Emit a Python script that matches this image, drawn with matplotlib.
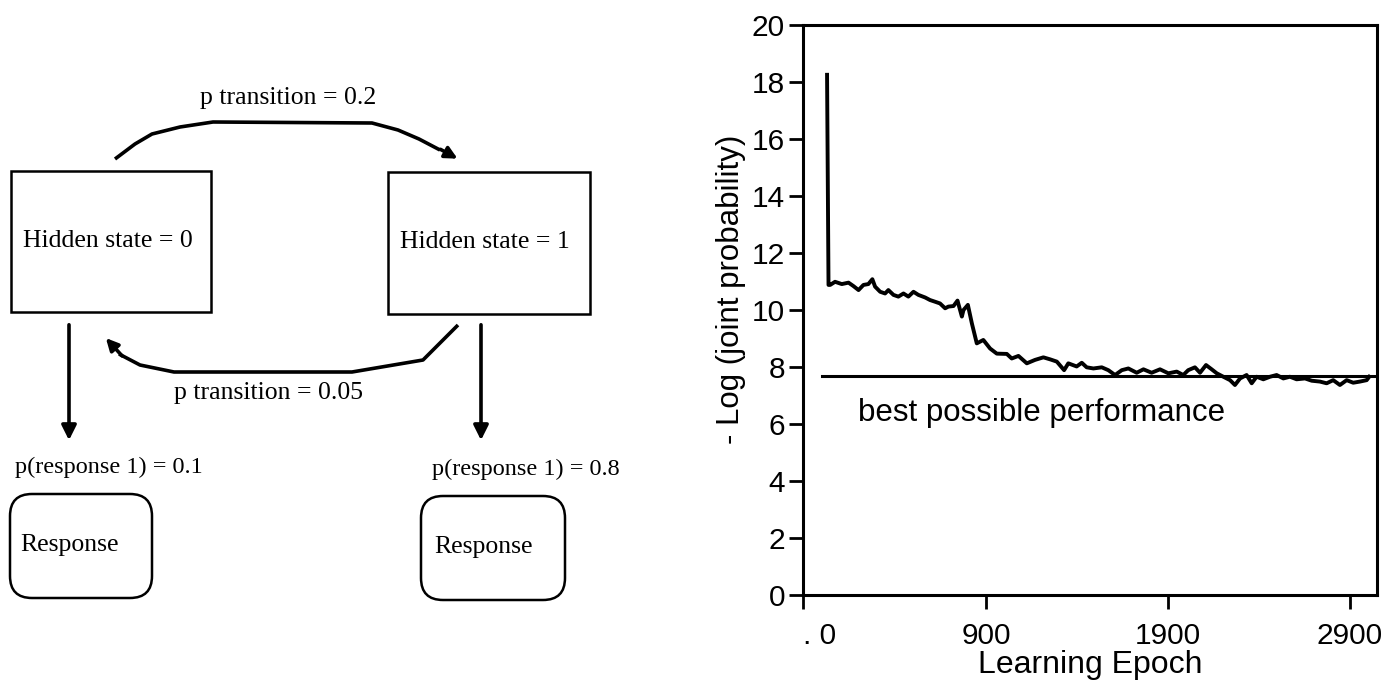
import matplotlib.pyplot as plt
from matplotlib.patches import Rectangle, FancyBboxPatch

# learning curve
epochs = [27, 35, 44, 71, 108, 145, 172, 200, 227, 254, 276, 291, 319, 346, 364,
          392, 419, 447, 474, 502, 529, 566, 593, 621, 648, 676, 694, 722, 744,
          768, 777, 801, 823, 850, 886, 923, 960, 1015, 1042, 1079, 1125, 1170,
          1216, 1253, 1290, 1330, 1353, 1399, 1427, 1454, 1491, 1537, 1573, 1610,
          1647, 1683, 1729, 1766, 1811, 1857, 1903, 1949, 1985, 2012, 2049, 2077,
          2110, 2141, 2169, 2205, 2242, 2269, 2297, 2333, 2361, 2388, 2425, 2462,
          2498, 2535, 2571, 2608, 2654, 2691, 2736, 2773, 2809, 2846, 2883, 2919,
          2956, 2993, 3007]
neg_log_prob = [18.25, 10.88, 10.88, 10.99, 10.91, 10.96, 10.84, 10.70, 10.88, 10.91,
                11.08, 10.82, 10.64, 10.58, 10.70, 10.53, 10.47, 10.58, 10.47, 10.64,
                10.53, 10.44, 10.35, 10.29, 10.23, 10.06, 10.12, 10.14, 10.33, 9.77,
                10.00, 10.18, 9.53, 8.83, 8.95, 8.65, 8.47, 8.46, 8.30, 8.39, 8.13,
                8.25, 8.34, 8.27, 8.19, 7.89, 8.13, 8.02, 8.15, 7.99, 7.95, 7.99, 7.89,
                7.72, 7.89, 7.95, 7.80, 7.92, 7.80, 7.92, 7.78, 7.84, 7.72, 7.89, 7.99,
                7.80, 8.07, 7.92, 7.78, 7.66, 7.54, 7.37, 7.60, 7.72, 7.43, 7.66, 7.57,
                7.66, 7.72, 7.60, 7.66, 7.57, 7.60, 7.52, 7.49, 7.43, 7.54, 7.37, 7.54,
                7.45, 7.49, 7.54, 7.66]
best_epochs = [0, 3050]
best_value = [7.7, 7.7]

x_ticks = [-105, 900, 1900, 2900]
x_ticklabels = [". 0", "900", "1900", "2900"]
y_ticks = [0, 2, 4, 6, 8, 10, 12, 14, 16, 18, 20]

# diagram labels
state_labels = ["Hidden state = 0", "Hidden state = 1"]
trans_labels = ["p transition = 0.2", "p transition = 0.05"]
resp_labels = ["p(response 1) = 0.1", "p(response 1) = 0.8"]

serif = "Liberation Serif"
sans = "Liberation Sans"
fs = 18.5

fig = plt.figure(figsize=(14, 6.92), dpi=100)

# ---- left: HMM diagram, drawn in pixel coordinates ----
d = fig.add_axes([0, 0, 1, 1])
d.set_xlim(0, 1400)
d.set_ylim(692, 0)
d.axis("off")

lw_box = 1.8
lw_arr = 2.6
for x0, y0, w, h in [(11, 171, 200, 141), (388, 172, 202, 142)]:
    d.add_patch(Rectangle((x0, y0), w, h, fill=False, lw=lw_box, ec="black"))
d.text(108, 241, state_labels[0], family=serif, fontsize=fs, ha="center", va="center")
d.text(485, 242, state_labels[1], family=serif, fontsize=fs, ha="center", va="center")

for x0, y0, w, h in [(10, 494, 142, 104), (421, 496, 144, 104)]:
    d.add_patch(FancyBboxPatch((x0, y0), w, h, boxstyle="round,pad=0,rounding_size=22",
                               fill=False, lw=lw_box, ec="black"))
d.text(70, 545, "Response", family=serif, fontsize=fs, ha="center", va="center")
d.text(484, 547, "Response", family=serif, fontsize=fs, ha="center", va="center")

# top transition arrow
top_x = [115, 135, 152, 180, 213, 372, 398, 419, 440]
top_y = [159, 144, 134, 127, 122, 123, 130, 139, 150]
d.plot(top_x, top_y, color="black", lw=lw_arr, solid_capstyle="butt")
d.annotate("", xy=(460, 160), xytext=(438, 148),
           arrowprops=dict(arrowstyle="-|>", color="black", lw=lw_arr, mutation_scale=18))
d.text(288, 98, trans_labels[0], family=serif, fontsize=fs, ha="center", va="center")

# bottom transition arrow
bot_x = [458, 423, 352, 174, 140, 119]
bot_y = [325, 360, 372, 372, 365, 354]
d.plot(bot_x, bot_y, color="black", lw=lw_arr, solid_capstyle="butt")
d.annotate("", xy=(104, 336), xytext=(124, 358),
           arrowprops=dict(arrowstyle="-|>", color="black", lw=lw_arr, mutation_scale=18))
d.text(269, 393, trans_labels[1], family=serif, fontsize=fs, ha="center", va="center")

# emission arrows
for x in (69, 481):
    d.annotate("", xy=(x, 443), xytext=(x, 322),
               arrowprops=dict(arrowstyle="-|>", color="black", lw=lw_arr, mutation_scale=22))
d.text(15, 467, resp_labels[0], family=serif, fontsize=17.5, ha="left", va="center")
d.text(432, 469, resp_labels[1], family=serif, fontsize=17.5, ha="left", va="center")

# ---- right: learning curve ----
ax = fig.add_axes([0.5736, 0.140, 0.4100, 0.824])
ax.plot(epochs, neg_log_prob, color="black", lw=2.8)
ax.plot(best_epochs, best_value, color="black", lw=2.2)
ax.set_xlim(-105, 3050)
ax.set_ylim(0, 20)
ax.set_xticks(x_ticks)
ax.set_xticklabels(x_ticklabels)
ax.set_yticks(y_ticks)
for sp in ax.spines.values():
    sp.set_linewidth(2.2)
ax.tick_params(axis="both", direction="out", width=2, length=10, labelsize=21.5)
ax.tick_params(axis="x", pad=9)
ax.tick_params(axis="y", pad=3)
for lab in ax.get_xticklabels() + ax.get_yticklabels():
    lab.set_family(sans)
ax.get_xticklabels()[0].set_horizontalalignment("left")
ax.text(198, 6.4, "best possible performance", family=sans, fontsize=22.5, va="center")
ax.set_xlabel("Learning Epoch", family=sans, fontsize=23, labelpad=0)
ax.set_ylabel("- Log (joint probability)", family=sans, fontsize=22.5)
ax.yaxis.set_label_coords(-0.1, 0.537)

fig.savefig("out.png", dpi=100)
